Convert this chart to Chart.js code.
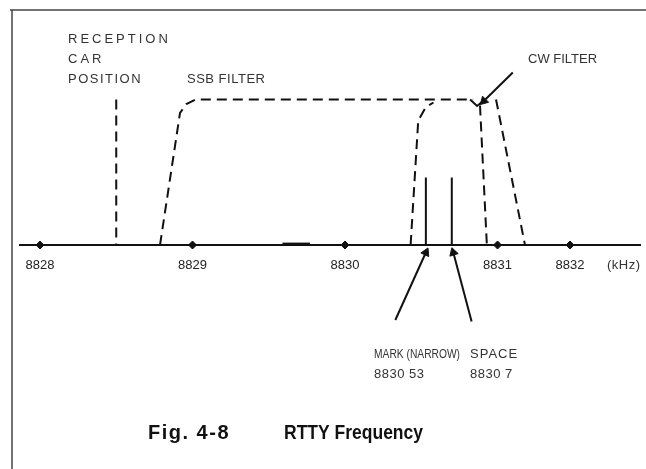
<!DOCTYPE html>
<html>
<head>
<meta charset="utf-8">
<script src="https://cdn.jsdelivr.net/npm/chart.js@4/dist/chart.umd.min.js"></script>
<style>
  body { margin: 0; background: #fff; }
</style>
</head>
<body>
<canvas id="rttyChart" width="646" height="469"></canvas>
<script>
// Frequency axis (kHz). The last tick is drawn compressed, like the original figure
var tickValues = [8828, 8829, 8830, 8831, 8831.475];
var tickLabels = ['8828', '8829', '8830', '8831', '8832'];

// Filter outlines (x = kHz, y = relative level)
var receptionX = [8828.5, 8828.5];
var receptionY = [97, 0];
var ssbX = [8828.787, 8828.918, 8828.96, 8829.02, 8830.84];
var ssbY = [0, 88, 94, 97, 97];
var ssbRightX = [8830.99, 8831.18];
var ssbRightY = [97, 0];
var cwLeftX = [8830.43, 8830.48, 8830.53, 8830.58];
var cwLeftY = [0, 83, 92, 95];
var cwTopX = [8830.82, 8830.866, 8830.905];
var cwTopY = [97, 92.7, 96];
var cwRightX = [8830.885, 8830.93];
var cwRightY = [93, 0];

// Mark and space tones
var markX = [8830.53, 8830.53];
var markY = [0, 45];
var spaceX = [8830.7, 8830.7];
var spaceY = [0, 45];

// Pointer arrows
var markArrowX = [8830.33, 8830.53];
var markArrowY = [-50, -5];
var spaceArrowX = [8830.83, 8830.71];
var spaceArrowY = [-51, -5];
var cwArrowX = [8831.10, 8830.91];
var cwArrowY = [115, 96];

// Smudge on the axis line in the print
var smudgeX = [8829.59, 8829.77];
var smudgeY = [0.6, 0.6];

function pts(xs, ys) {
    return xs.map(function (x, i) { return { x: x, y: ys[i] }; });
}

function dashed(xs, ys) {
    return {
        data: pts(xs, ys), showLine: true, borderColor: '#111', borderWidth: 2,
        borderDash: [10, 6], pointRadius: 0, fill: false, tension: 0
    };
}

function solid(xs, ys, w) {
    return {
        data: pts(xs, ys), showLine: true, borderColor: '#111', borderWidth: w || 2,
        pointRadius: 0, fill: false, tension: 0, clip: false
    };
}

function label(ctx, text, x, y, spacing, maxWidth) {
    ctx.letterSpacing = (spacing || 0) + 'px';
    if (maxWidth) {
        ctx.fillText(text, x, y, maxWidth);
    } else {
        ctx.fillText(text, x, y);
    }
    ctx.letterSpacing = '0px';
}

var labelPlugin = {
    id: 'labels',
    afterDraw: function (chart) {
        var ctx = chart.ctx;
        ctx.save();
        // page frame
        ctx.strokeStyle = '#444';
        ctx.lineWidth = 1.5;
        ctx.beginPath();
        ctx.moveTo(10, 10); ctx.lineTo(646, 10);
        ctx.moveTo(12, 10); ctx.lineTo(12, 469);
        ctx.stroke();

        ctx.fillStyle = '#333';
        ctx.font = '13px "Liberation Sans", Arial, sans-serif';
        ctx.textBaseline = 'alphabetic';
        ctx.textAlign = 'left';
        label(ctx, 'RECEPTION', 68, 43, 3);
        label(ctx, 'CAR', 68, 63, 3);
        label(ctx, 'POSITION', 68, 83, 1.5);
        label(ctx, 'SSB FILTER', 187, 83, 0.5);
        label(ctx, 'CW FILTER', 528, 63, 0);
        label(ctx, 'MARK (NARROW)', 374, 358, 0, 86);
        label(ctx, '8830 53', 374, 378, 0.5);
        label(ctx, 'SPACE', 470, 358, 1);
        label(ctx, '8830 7', 470, 378, 0.5);
        label(ctx, '(kHz)', 607, 269, 0.5);

        ctx.fillStyle = '#111';
        ctx.font = 'bold 20px "Liberation Sans", Arial, sans-serif';
        label(ctx, 'Fig. 4-8', 148, 439, 1.5);
        label(ctx, 'RTTY Frequency', 284, 439, 0, 139);
        ctx.restore();
    }
};

function createRttyChart() {
    var ctx = document.getElementById('rttyChart').getContext('2d');
    new Chart(ctx, {
        type: 'scatter',
        data: {
            datasets: [
                dashed(receptionX, receptionY),
                dashed(ssbX, ssbY),
                dashed(ssbRightX, ssbRightY),
                dashed(cwLeftX, cwLeftY),
                solid(cwTopX, cwTopY, 2),
                dashed(cwRightX, cwRightY),
                solid(markX, markY, 2),
                solid(spaceX, spaceY, 2),
                solid(markArrowX, markArrowY, 2),
                solid(spaceArrowX, spaceArrowY, 2),
                solid(cwArrowX, cwArrowY, 2),
                solid(smudgeX, smudgeY, 3),
                {
                    // tick dots on the axis
                    data: tickValues.map(function (v) { return { x: v, y: 0 }; }),
                    pointStyle: 'rectRot', pointRadius: 4,
                    backgroundColor: '#111', borderColor: '#111', showLine: false, clip: false
                },
                {
                    // arrow heads
                    data: [
                        { x: markArrowX[1], y: markArrowY[1] },
                        { x: spaceArrowX[1], y: spaceArrowY[1] },
                        { x: cwArrowX[1], y: cwArrowY[1] }
                    ],
                    pointStyle: 'triangle', pointRadius: 5, rotation: [25, -17, 225],
                    backgroundColor: '#111', borderColor: '#111', showLine: false, clip: false
                }
            ]
        },
        options: {
            responsive: false,
            animation: false,
            layout: { padding: { left: 20, right: 6, top: 44, bottom: 134 } },
            plugins: { legend: { display: false }, tooltip: { enabled: false } },
            scales: {
                x: {
                    type: 'linear',
                    position: { y: 0 },
                    min: 8827.869,
                    max: 8831.934,
                    grid: { display: false, drawTicks: false },
                    border: { display: true, color: '#111', width: 2 },
                    afterBuildTicks: function (scale) {
                        scale.ticks = tickValues.map(function (v) { return { value: v }; });
                    },
                    ticks: {
                        autoSkip: false,
                        maxRotation: 0,
                        padding: 13,
                        color: '#222',
                        font: { family: '"Liberation Sans", Arial, sans-serif', size: 13 },
                        callback: function (value, index) { return tickLabels[index]; }
                    }
                },
                y: {
                    display: false,
                    min: -60,
                    max: 134
                }
            }
        },
        plugins: [labelPlugin]
    });
}

createRttyChart();
</script>
</body>
</html>
